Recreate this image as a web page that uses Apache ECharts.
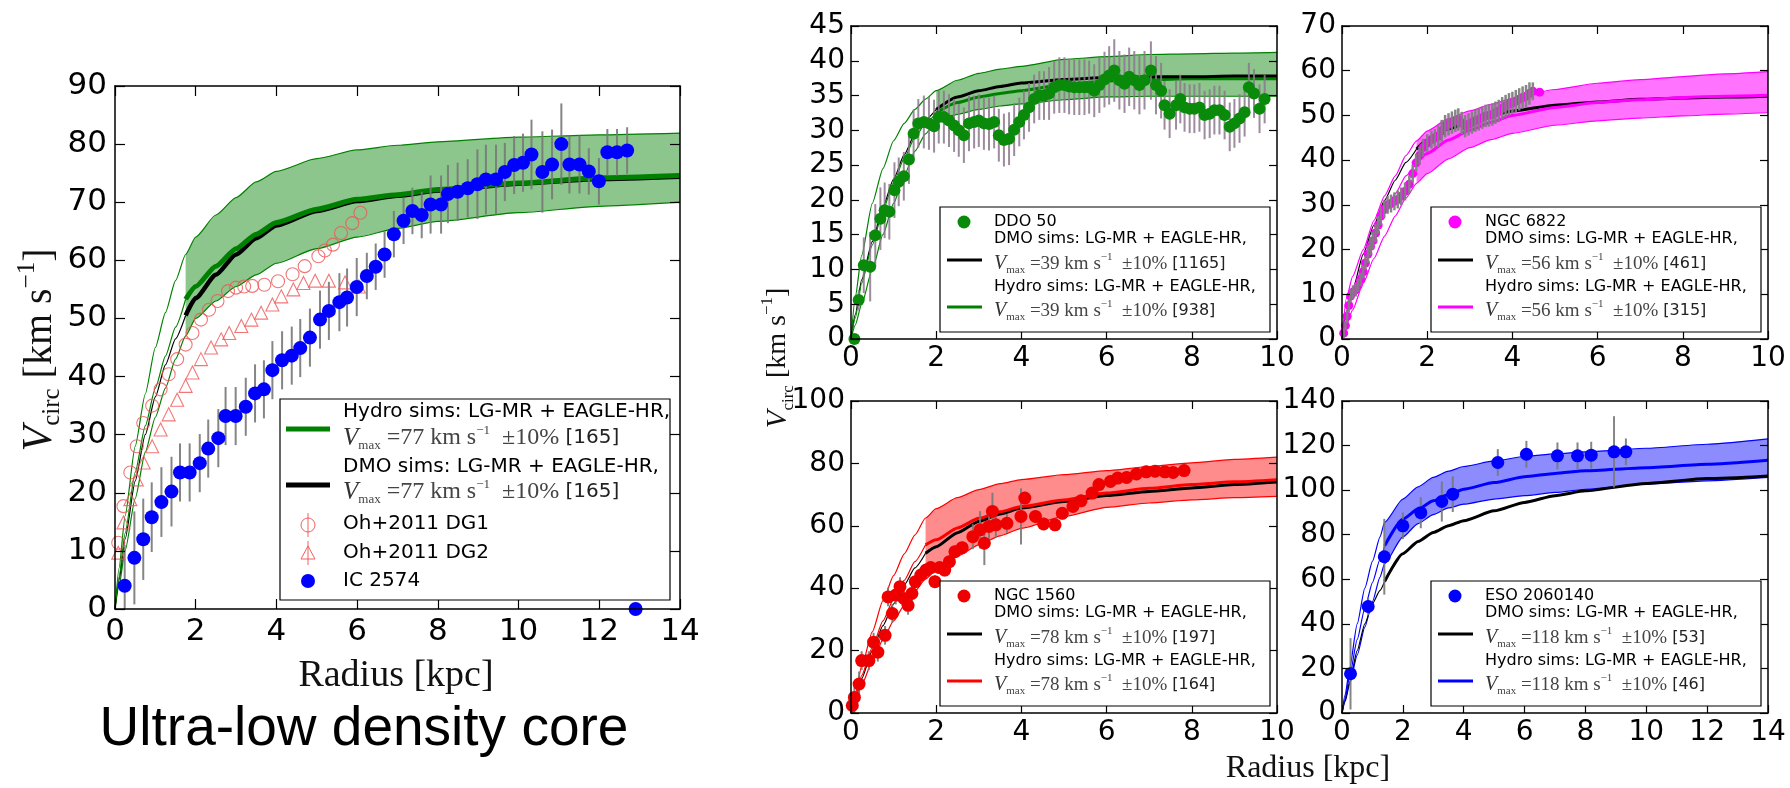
<!DOCTYPE html>
<html><head><meta charset="utf-8">
<script src="https://cdn.jsdelivr.net/npm/echarts@6/dist/echarts.min.js"></script>
<style>html,body{margin:0;padding:0;background:#fff}#c{width:1790px;height:788px}</style>
</head><body><div id="c"></div>
<script>
const SANS = 'DejaVu Sans', SERIF = 'Liberation Serif';

// ---------------- tick labels ----------------
const icXTicks = [0,2,4,6,8,10,12,14];
const icYTicks = [0,10,20,30,40,50,60,70,80,90];
const ddoXTicks = [0,2,4,6,8,10];
const ddoYTicks = [0,5,10,15,20,25,30,35,40,45];
const n6XTicks = [0,2,4,6,8,10];
const n6YTicks = [0,10,20,30,40,50,60,70];
const n1XTicks = [0,2,4,6,8,10];
const n1YTicks = [0,20,40,60,80,100];
const esXTicks = [0,2,4,6,8,10,12,14];
const esYTicks = [0,20,40,60,80,100,120,140];

// ---------------- IC 2574 panel ----------------
const icR = [0.24,0.48,0.70,0.91,1.15,1.40,1.61,1.85,2.10,2.31,2.56,2.74,2.99,3.24,3.47,3.69,3.90,4.14,4.38,4.59,4.83,5.08,5.30,5.56,5.75,5.99,6.24,6.46,6.68,6.91,7.15,7.37,7.60,7.82,8.08,8.25,8.49,8.74,8.98,9.19,9.44,9.66,9.89,10.11,10.32,10.59,10.83,11.06,11.26,11.51,11.74,11.99,12.2,12.44,12.69,12.9];
const icV = [4,8.8,12,15.8,18.4,20.2,23.5,23.5,25.1,27.6,29.4,33.2,33.2,34.8,37.1,37.8,41.1,42.8,43.6,44.9,46.7,49.8,51.3,52.8,53.6,55.4,57.3,58.9,61.0,64.5,66.8,68.5,67.8,69.6,69.6,71.4,71.8,72.4,73.1,73.9,73.9,75.2,76.4,76.8,78.2,75.2,76.5,80.0,76.5,76.5,75.3,73.6,78.6,78.6,78.9,0];
const icE = [7,8,7,6,6,6,5,5,5,5,5,5,5,5,5,5,5,5,5,5,5,5,5,5,5,5,4,4,4,4,4,4,4,5,5,5,5,5,6,6,6,5,5,5,6,7,6,7,5,5,4,4,4,4,4,0];
const dg1R = [0.08,0.21,0.38,0.54,0.70,0.92,1.13,1.33,1.54,1.75,1.92,2.13,2.33,2.54,2.80,3.0,3.2,3.4,3.7,4.04,4.4,4.7,5.04,5.2,5.4,5.6,5.88,6.08];
const dg1V = [11.4,17.7,23.5,28,32,35,37.8,40.4,43,45.5,47.5,49.8,51.5,53,54.7,55.3,55.5,55.6,55.8,56.4,57.6,59,60.7,61.7,62.7,64.7,66.4,68.2];
const dg2R = [0.08,0.21,0.38,0.54,0.71,0.92,1.13,1.33,1.54,1.75,1.92,2.13,2.38,2.63,2.83,3.13,3.38,3.62,3.9,4.12,4.42,4.67,4.96,5.3,5.7,6.04];
const dg2V = [9.7,14.9,18.9,22.3,25.2,28,30.9,33.5,36,38.4,40.7,43,45,46.4,47.5,48.7,49.8,51,52.4,53.8,55,56.1,56.5,56.5,56.2,55.5];
const icCurveR = [0,0.1,0.25,0.5,0.75,1.0,1.25,1.5,1.75,2.0,2.5,3.0,3.5,4.0,5.0,6.0,7.0,8.0,10.0,12.0,14.0];
const icUpper  = [0,7,16,28,37,45,51,56.5,61,64,67.8,70.8,73.5,75.3,77.5,79,79.8,80.4,81.2,81.6,81.9];
const icLower  = [0,4,10,19,27,33,38,43,47,50,53,55.5,57.5,59.5,62,64,65.5,66.7,68.2,69.3,70];
const icHydro  = [0,5.5,13,23.5,31.5,38,43.5,48.5,53.3,55.5,59,62,64.5,66.5,68.8,70.5,71.3,72.2,73.3,74.2,74.6];
const icDmo    = [0,5,12,22,30,36.5,42,46.5,50.5,53.5,57.5,61,63.8,66,68.5,70.2,71.1,72,73.2,74,74.4];

// ---------------- DDO 50 ----------------
const ddoR = [0.08,0.18,0.30,0.45,0.57,0.69,0.79,0.90,1.02,1.12,1.24,1.36,1.47,1.58,1.71,1.83,1.95,2.06,2.18,2.30,2.42,2.53,2.65,2.77,2.89,3.00,3.12,3.24,3.36,3.47,3.59,3.71,3.83,3.95,4.06,4.18,4.30,4.42,4.53,4.65,4.77,4.89,5.01,5.12,5.24,5.36,5.48,5.59,5.71,5.83,5.95,6.06,6.18,6.30,6.42,6.53,6.65,6.77,6.89,7.04,7.16,7.28,7.36,7.48,7.63,7.73,7.83,7.95,8.06,8.18,8.30,8.42,8.53,8.65,8.77,8.89,9.00,9.12,9.24,9.34,9.46,9.59,9.71];
const ddoV = [0,5.6,10.6,10.4,14.9,17.3,18.5,18.3,21.4,22.6,23.4,25.8,29.5,31.0,31.2,31.0,30.6,31.9,31.9,31.4,30.7,30.0,29.3,31.0,31.2,31.4,31.0,30.9,31.2,29.3,28.6,28.8,30.1,31.2,32.2,33.3,34.5,35.0,35.0,35.3,36.2,36.5,36.5,36.3,36.2,36.2,36.2,36.2,35.7,36.5,37.3,37.9,38.6,37.2,36.7,37.7,37.2,36.5,37.2,38.6,36.5,35.7,33.6,32.4,33.6,34.5,33.3,33.1,33.1,33.3,32.2,32.4,32.9,32.9,32.2,30.5,31.0,31.7,32.6,36.2,35.3,33.1,34.5];
const ddoE = [0,1.5,4,5,4.5,4.5,4,4,4,3.5,3.5,3.5,3.5,3.5,3.8,3.8,3.8,3.8,3.8,3.8,3.8,3.8,4,4,3.8,3.8,3.8,3.8,3.8,3.8,3.8,3.8,3.8,3.5,3.5,3.5,3.5,3.5,3.5,3.8,3.8,4,4,4,4,4,4,3.8,3.8,4,4,4.2,4.5,4.2,4.2,4.2,4.2,4.2,4.2,4.2,4.2,4,3.5,3.5,3.5,3.5,3.5,3.5,3.5,3.5,3.5,3.5,3.5,3.5,3.5,3.5,3.5,3.5,3.5,3.5,3.5,3.5,3.5];
const ddoCurveR = [0,0.1,0.25,0.5,0.75,1.0,1.25,1.5,1.75,2.0,2.5,3.0,3.5,4.0,5.0,6.0,7.0,8.0,9.0,10.0];
const ddoUpper  = [0,6,12,19.5,24.5,28.5,31,33,34.5,35.7,37.2,38.2,38.8,39.2,40.2,40.6,40.9,41,41.1,41.2];
const ddoLower  = [0,2,5,10,15,19.5,23.5,27,29.5,31.4,32.3,33,33.5,33.8,34.4,34.8,34.9,34.9,34.9,34.9];
const ddoHydro  = [0,3,8,13.5,18.5,22.5,26,29,31,32.5,34,34.8,35.3,35.7,36.6,37.1,37.3,37.4,37.4,37.4];
const ddoDmo    = [0,3.5,8.5,14,19,23,26.5,29.5,31.5,33,34.8,35.7,36.3,36.8,37.3,37.6,37.7,37.7,37.8,37.8];

// ---------------- NGC 6822 ----------------
const n6R = [0.04,0.08,0.12,0.16,0.2,0.26,0.32,0.38,0.44,0.5,0.55,0.61,0.67,0.73,0.79,0.85,0.91,0.99,1.07,1.15,1.23,1.31,1.39,1.48,1.58,1.66,1.74,1.82,1.9,2.0,2.1,2.18,2.26,2.34,2.42,2.5,2.58,2.66,2.73,2.81,2.89,2.97,3.05,3.13,3.21,3.29,3.37,3.45,3.53,3.6,3.68,3.76,3.84,3.92,4.0,4.08,4.16,4.24,4.32,4.4,4.48,4.64];
const n6V = [1.3,3,5.1,7.5,9.6,10.5,11,12,13.3,15,17,19,20.7,22,23.7,25.5,27.5,29,30,30.3,30.8,31.2,31.9,33,34.6,37,39.4,41,42.8,43.8,44.6,45,45.4,46.5,47.6,48,48.4,48.8,49.1,48.3,47.6,48,48.4,48.8,49.1,49.5,49.9,50,50.2,50.6,51,51.6,52.1,52.5,52.8,53.2,53.6,54,54.3,54.9,55.4,55.2];
const n6E = [1,1,1.5,1.5,1.5,1.5,1.5,1.5,1.5,1.5,1.5,2,2,2,2,2,2,2,2,2,2,2,2,2,2,2,2,2,2,2,2,2,2.5,2.5,2.5,2.5,2.5,2.5,2.5,2.5,2.5,2.5,2.5,2.5,2.5,2.5,2.5,2.5,2.5,2.5,2.5,2.5,2.5,2.5,2.5,2.5,2.5,2.5,2.5,2.5,2,0];
const n6CurveR = [0,0.1,0.25,0.5,0.75,1.0,1.25,1.5,1.75,2.0,2.5,3.0,3.5,4.0,5.0,6.0,7.0,8.0,9.0,10.0];
const n6Upper  = [0,9,14,20,26.5,32,36.5,41,44.3,46.5,49.3,51,52.5,53.8,55.8,57.2,58,58.7,59.3,59.8];
const n6Lower  = [0,3,6.5,12.5,18,23,27.5,31.5,34.8,37,40.3,42.8,44.6,46,47.8,48.8,49.4,49.9,50.3,50.6];
const n6Hydro  = [0,5.5,10,17,23,28,32.5,36.5,39.5,41.5,44.5,46.7,48.5,50,51.8,52.9,53.5,54,54.3,54.5];
const n6Dmo    = [0,6,11,19,25.5,31,35.5,39.5,42.5,44.5,47,48.5,50,51,52.3,53,53.6,53.9,54.1,54.3];

// ---------------- NGC 1560 ----------------
const n1R = [0.03,0.08,0.19,0.25,0.42,0.53,0.63,0.8,0.87,0.97,1.05,1.15,1.24,1.34,1.43,1.51,1.64,1.76,1.87,1.97,2.08,2.2,2.31,2.44,2.61,2.86,3.03,3.13,3.24,3.32,3.4,3.66,3.99,4.08,4.33,4.52,4.79,4.96,5.21,5.4,5.66,5.82,6.09,6.26,6.47,6.7,6.93,7.14,7.37,7.56,7.82];
const n1V = [2.4,5,9.3,16.8,16.8,22.7,19.5,24.9,37.2,31.9,37.8,40.5,36.7,34.5,38.3,42.1,44.2,45.8,46.6,42.1,46.6,45.8,48.5,51.7,53,56.5,58.7,54.4,59.8,64.6,60.3,60.8,63,68.9,63,60.6,60.3,64,66.2,68,70.5,73.2,74.2,75.3,75.5,76.6,77.3,77.5,77.3,77.1,77.7];
const n1E = [3,5,4,3,3,3,3,3,3,3,3,3,3,3,3,2,2,2,2,2,2,2,2,2,2,4,6,7,4,6,4,3,9,2,2,2,2,2,2,2,2,2,2,2,2,2,2,2,2,2,2];
const n1CurveR = [0,0.1,0.25,0.5,0.75,1.0,1.25,1.5,1.75,2.0,2.5,3.0,3.5,4.0,5.0,6.0,7.0,8.0,9.0,10.0];
const n1Upper  = [0,6,15,26,36,44,51,57,62.5,65.5,69,71.6,73.5,74.8,76.4,77.7,79,80.2,81.3,82];
const n1Lower  = [0,3.5,9,16.5,23.5,29.5,34.5,39,43,45.8,50.3,53.9,56.8,59.2,63,65.9,67.3,68.3,69,69.4];
const n1Hydro  = [0,4.5,12,21,29.5,36.5,42.5,48.5,53.9,55.5,59.3,62.4,64.5,66.2,68.3,70.5,72,73.2,74.1,74.8];
const n1Dmo    = [0,4,11,20,28,35,41,46.5,51.2,53.3,57.8,61.4,63.8,65.7,67.8,69.7,71,72.1,73.2,74];

// ---------------- ESO 2060140 ----------------
const esR = [0.28,0.86,1.39,2.0,2.59,3.28,3.64,5.12,6.06,7.08,7.74,8.19,8.94,9.33];
const esV = [17.6,47.8,70.1,84,89.9,94.9,98.2,112.4,116.1,115.4,115.4,115.7,117.2,117.2];
const esE = [16,4,17,6,7,9,8,6,6,6,6,6,16,6];
const esCurveR = [0,0.1,0.25,0.5,0.75,1.0,1.25,1.4,2.0,2.5,3.0,3.5,4.0,5.0,6.0,7.0,8.0,10.0,12.0,14.0];
const esUpper  = [0,8,20,40,56,68,79,85.5,96,101.5,105.7,108.5,110.6,113.1,115.1,116.3,117.2,118.8,120.6,123];
const esLower  = [0,5,13,26,38.5,50,61,67,79,85,89,92,93.7,96,97.5,99,100.4,102.7,104.2,105.7];
const esHydro  = [0,6.5,16.5,33,47,58.5,69,75,87,91.5,95.2,98,100.4,103.4,106,107.5,108.7,110.1,111.6,113.4];
const esDmo    = [0,5.5,14,28,40,49,55,59,71.5,77,81,84,86.3,90.7,94.5,97.5,99.7,103,105.2,106.4];

// ---------------- legend values ----------------
const legendNames  = ['IC 2574','DDO 50','NGC 6822','NGC 1560','ESO 2060140'];
const legendVmax   = [77,39,56,78,118];
const legendNdmo   = [165,1165,461,197,53];
const legendNhydro = [165,938,315,164,46];

// ---------------- panel layout / style ----------------
const panels = [
 {box:[115,86,565,523], xT:icXTicks, yT:icYTicks, col:'#008000', fill:'rgba(0,128,0,0.45)', pt:'#0000ff', ms:14,
  err:'rgba(120,120,120,0.9)', errW:2, fs:31, lm:8, xm:7, tick:10, thick:5, dmoThick:4.5,
  cr:icCurveR, up:icUpper, lo:icLower, hy:icHydro, dm:icDmo, start:1.75, r:icR, v:icV, e:icE, hydroTop:true, errTop:false},
 {box:[851,26,426,313], xT:ddoXTicks, yT:ddoYTicks, col:'#008000', fill:'rgba(0,128,0,0.45)', pt:'#0a8a0a', ms:12,
  err:'rgba(140,120,140,0.85)', errW:2, fs:28, lm:6, xm:6, tick:8, thick:3, dmoThick:3,
  cr:ddoCurveR, up:ddoUpper, lo:ddoLower, hy:ddoHydro, dm:ddoDmo, start:2.0, r:ddoR, v:ddoV, e:ddoE, hydroTop:false, errTop:false},
 {box:[1342,26,426,313], xT:n6XTicks, yT:n6YTicks, col:'#ff00ff', fill:'rgba(255,0,255,0.55)', pt:'#ff00ff', ms:9,
  err:'rgba(128,128,128,0.95)', errW:2.5, fs:28, lm:6, xm:6, tick:8, thick:3, dmoThick:3,
  cr:n6CurveR, up:n6Upper, lo:n6Lower, hy:n6Hydro, dm:n6Dmo, start:1.75, r:n6R, v:n6V, e:n6E, hydroTop:true, errTop:true},
 {box:[851,401,426,312], xT:n1XTicks, yT:n1YTicks, col:'#ff0000', fill:'rgba(255,0,0,0.45)', pt:'#ee0000', ms:13,
  err:'rgba(120,120,120,0.9)', errW:2, fs:28, lm:6, xm:6, tick:8, thick:3, dmoThick:3,
  cr:n1CurveR, up:n1Upper, lo:n1Lower, hy:n1Hydro, dm:n1Dmo, start:1.75, r:n1R, v:n1V, e:n1E, hydroTop:true, errTop:false},
 {box:[1342,401,426,312], xT:esXTicks, yT:esYTicks, col:'#0000ff', fill:'rgba(0,0,255,0.45)', pt:'#0000ff', ms:13,
  err:'rgba(120,120,120,0.9)', errW:2, fs:28, lm:6, xm:6, tick:8, thick:3, dmoThick:3,
  cr:esCurveR, up:esUpper, lo:esLower, hy:esHydro, dm:esDmo, start:1.4, r:esR, v:esV, e:esE, hydroTop:true, errTop:false}
];

function pairs(r, v, pred) { const o=[]; for (let k=0;k<r.length;k++) if (!pred || pred(r[k])) o.push([r[k], v[k]]); return o; }
const SM = 0.2;

const grids=[], xAxes=[], yAxes=[], series=[];
panels.forEach((p,i)=>{
  const [L,T,W,H] = p.box;
  grids.push({left:L, top:T, width:W, height:H, containLabel:false});
  const ax = (ticks)=>({min:ticks[0], max:ticks[ticks.length-1], interval:ticks[1]-ticks[0]});
  const line = {show:true, onZero:false, lineStyle:{color:'#000', width:1.5}};
  const tk = {show:true, inside:true, length:p.tick, lineStyle:{color:'#000', width:1.2}};
  const lab = {show:true, color:'#000', fontFamily:SANS, fontSize:p.fs, showMinLabel:true, showMaxLabel:true};
  xAxes.push(Object.assign({type:'value', gridIndex:i, position:'bottom', axisLine:line, axisTick:tk, axisLabel:Object.assign({margin:p.xm}, lab), splitLine:{show:false}, z:10}, ax(p.xT)));
  xAxes.push(Object.assign({type:'value', gridIndex:i, position:'top', axisLine:line, axisTick:tk, axisLabel:{show:false}, splitLine:{show:false}, z:10}, ax(p.xT)));
  yAxes.push(Object.assign({type:'value', gridIndex:i, position:'left', axisLine:line, axisTick:tk, axisLabel:Object.assign({margin:p.lm}, lab), splitLine:{show:false}, z:10}, ax(p.yT)));
  yAxes.push(Object.assign({type:'value', gridIndex:i, position:'right', axisLine:line, axisTick:tk, axisLabel:{show:false}, splitLine:{show:false}, z:10}, ax(p.yT)));
  const xi=2*i, yi=2*i;
  const base = {xAxisIndex:xi, yAxisIndex:yi, silent:true, animation:false};
  const inBand = r=>r>=p.start, inner = r=>r<=p.start;
  // band (filled polygon between lower and upper, from p.start outward)
  const bandPts = p.cr.map((r,k)=>[r, p.lo[k], p.up[k]]).filter(d=>inBand(d[0]));
  const fillCol = p.fill;
  series.push(Object.assign({type:'custom', clip:true, z:1, encode:{x:0, y:1}, data:bandPts,
    renderItem:(params, api)=>{
      if (params.dataIndex !== 0) return null;
      const top = bandPts.map(d=>api.coord([d[0], d[2]]));
      const bot = bandPts.map(d=>api.coord([d[0], d[1]])).reverse();
      return {type:'polygon', shape:{points:top.concat(bot)}, style:{fill:fillCol, stroke:null}};
    }}, base));
  // band edges (thin)
  [p.up, p.lo].forEach(arr=>series.push(Object.assign({type:'line', data:pairs(p.cr,arr), symbol:'none', smooth:SM, smoothMonotone:'x', lineStyle:{color:p.col, width:1.2}, z:2}, base)));
  // thin inner medians
  series.push(Object.assign({type:'line', data:pairs(p.cr,p.dm,inner), symbol:'none', smooth:SM, smoothMonotone:'x', lineStyle:{color:'#000', width:1.2}, z:2}, base));
  series.push(Object.assign({type:'line', data:pairs(p.cr,p.hy,inner), symbol:'none', smooth:SM, smoothMonotone:'x', lineStyle:{color:p.col, width:1.2}, z:2}, base));
  // thick medians
  const dmoS = Object.assign({type:'line', data:pairs(p.cr,p.dm,inBand), symbol:'none', smooth:SM, smoothMonotone:'x', lineStyle:{color:'#000', width:p.dmoThick}, z:2}, base);
  const hyS = Object.assign({type:'line', data:pairs(p.cr,p.hy,inBand), symbol:'none', smooth:SM, smoothMonotone:'x', lineStyle:{color:p.col, width:p.thick}, z:2}, base);
  if (p.hydroTop) { series.push(dmoS, hyS); } else { series.push(hyS, dmoS); }
  // error bars
  const errCol = p.err, errW = p.errW;
  series.push(Object.assign({type:'custom', clip:true, z:p.errTop?5:3, encode:{x:0,y:1},
    data:p.r.map((x,k)=>[x, p.v[k], p.e[k]]),
    renderItem:(params, api)=>{
      const x=api.value(0), y=api.value(1), e=api.value(2);
      const a=api.coord([x,y-e]), b=api.coord([x,y+e]);
      return {type:'line', shape:{x1:a[0],y1:a[1],x2:b[0],y2:b[1]}, style:{stroke:errCol, lineWidth:errW}};
    }}, base));
  // points
  series.push(Object.assign({type:'scatter', data:pairs(p.r,p.v), symbol:'circle', symbolSize:p.ms, itemStyle:{color:p.pt, opacity:1}, clip:true, z:4}, base));
});
// Oh+2011 DG1 / DG2 on the IC 2574 panel
series.push({type:'scatter', xAxisIndex:0, yAxisIndex:0, data:pairs(dg1R,dg1V), symbol:'circle', symbolSize:13,
  itemStyle:{color:'rgba(0,0,0,0)', borderColor:'#ee5555', borderWidth:1.1}, z:3, silent:true, clip:true});
series.push({type:'scatter', xAxisIndex:0, yAxisIndex:0, data:pairs(dg2R,dg2V), symbol:'triangle', symbolSize:13,
  itemStyle:{color:'rgba(0,0,0,0)', borderColor:'#ee5555', borderWidth:1.1}, z:3, silent:true, clip:true});

// ---------------- graphics: legends and titles ----------------
const G = [];
function tok(fs, fam, extra){ return Object.assign({fontSize:fs, fontFamily:fam, fill:'#222', lineHeight:Math.round(fs*1.3)}, extra||{}); }
function plain(x, y, text, fs, fam, extra){
  G.push({type:'text', x, y, z:101, silent:true, style:Object.assign({text, fill:'#000', fontSize:fs, fontFamily:fam||SANS, align:'left', verticalAlign:'middle', textAlign:'left', textVerticalAlign:'middle'}, extra||{})});
}
function vmaxRow(x, y, vmax, n, fs){
  const sm = Math.round(fs*0.66);
  G.push({type:'text', x, y, z:101, silent:true, style:{
    text:'{v|V}{sub|max}{t| =' + vmax + ' km s}{sup|\u22121}{t|  \u00b110%}{s| [' + n + ']}',
    align:'left', verticalAlign:'middle', textAlign:'left', textVerticalAlign:'middle',
    rich:{
      v: tok(Math.round(fs*1.25), SERIF, {fontStyle:'italic', fill:'#333', lineHeight:fs+8}),
      sub: tok(sm, SERIF, {fill:'#444', lineHeight:sm, verticalAlign:'bottom'}),
      t: tok(Math.round(fs*1.2), SERIF, {fill:'#444', lineHeight:fs+8}),
      sup: tok(sm, SERIF, {fill:'#444', lineHeight:sm, verticalAlign:'top'}),
      s: tok(fs, SANS, {fill:'#222', lineHeight:fs+8})
    }}});
}
function hline(x1, x2, y, col, w){ G.push({type:'line', z:101, silent:true, shape:{x1, y1:y, x2, y2:y}, style:{stroke:col, lineWidth:w}}); }
function box(x, y, w, h){ G.push({type:'rect', z:100, silent:true, shape:{x, y, width:w, height:h}, style:{fill:'#fff', stroke:'#000', lineWidth:1.2}}); }

// left legend
(function(){
  const x0=280, y0=399;
  box(x0, y0, 390, 201);
  hline(x0+6, x0+50, y0+30, '#008000', 5);
  hline(x0+6, x0+50, y0+86, '#000', 5);
  plain(x0+63, y0+13, 'Hydro sims: LG-MR + EAGLE-HR,', 20, SANS);
  vmaxRow(x0+63, y0+39, legendVmax[0], legendNhydro[0], 20);
  plain(x0+63, y0+68, 'DMO sims: LG-MR + EAGLE-HR,', 20, SANS);
  vmaxRow(x0+63, y0+93, legendVmax[0], legendNdmo[0], 20);
  G.push({type:'line', z:101, silent:true, shape:{x1:x0+28,y1:y0+114,x2:x0+28,y2:y0+138}, style:{stroke:'#f06060', lineWidth:1}});
  G.push({type:'circle', z:101, silent:true, shape:{cx:x0+28, cy:y0+126, r:7}, style:{fill:'none', stroke:'#f06060', lineWidth:1}});
  G.push({type:'line', z:101, silent:true, shape:{x1:x0+28,y1:y0+142,x2:x0+28,y2:y0+166}, style:{stroke:'#f06060', lineWidth:1}});
  G.push({type:'polygon', z:101, silent:true, shape:{points:[[x0+28,y0+147],[x0+21,y0+160],[x0+35,y0+160]]}, style:{fill:'none', stroke:'#f06060', lineWidth:1}});
  G.push({type:'circle', z:101, silent:true, shape:{cx:x0+28, cy:y0+182, r:7}, style:{fill:'#0000ff'}});
  plain(x0+63, y0+125, 'Oh+2011 DG1', 20, SANS);
  plain(x0+63, y0+154, 'Oh+2011 DG2', 20, SANS);
  plain(x0+63, y0+182, legendNames[0], 20, SANS);
})();

// right legends
for (let i=1;i<5;i++){
  const p = panels[i]; const [L,T,W,H] = p.box;
  const x0 = L+89, y0 = T+H-132;
  box(x0, y0, W-96, 125);
  G.push({type:'circle', z:101, silent:true, shape:{cx:x0+24, cy:y0+15, r:6.5}, style:{fill:p.pt}});
  hline(x0+7, x0+42, y0+53, '#000', 3);
  hline(x0+7, x0+42, y0+100, p.col, 3);
  plain(x0+54, y0+15, legendNames[i], 16, SANS);
  plain(x0+54, y0+32, 'DMO sims: LG-MR + EAGLE-HR,', 16, SANS);
  vmaxRow(x0+54, y0+57, legendVmax[i], legendNdmo[i], 16);
  plain(x0+54, y0+80, 'Hydro sims: LG-MR + EAGLE-HR,', 16, SANS);
  vmaxRow(x0+54, y0+104, legendVmax[i], legendNhydro[i], 16);
}

// axis titles
function vcircLabel(x, y, fs){
  const sm = Math.round(fs*0.62);
  G.push({type:'text', x, y, rotation:Math.PI/2, z:101, silent:true, style:{
    text:'{v|V}{sub|circ}{t| [km s}{sup|\u22121}{t|]}',
    align:'center', verticalAlign:'middle', textAlign:'center', textVerticalAlign:'middle',
    rich:{
      v: tok(Math.round(fs*1.05), SERIF, {fontStyle:'italic', fill:'#111', lineHeight:fs+10}),
      sub: tok(sm, SERIF, {fill:'#111', lineHeight:sm, verticalAlign:'bottom'}),
      t: tok(fs, SERIF, {fill:'#111', lineHeight:fs+10}),
      sup: tok(sm, SERIF, {fill:'#111', lineHeight:sm, verticalAlign:'top'})
    }}});
}
vcircLabel(40, 350, 40);
vcircLabel(778, 358, 28);
plain(396, 676, 'Radius [kpc]', 38, SERIF, {align:'center', textAlign:'center', fill:'#111'});
plain(1308, 769, 'Radius [kpc]', 32, SERIF, {align:'center', textAlign:'center', fill:'#111'});
plain(364, 730, 'Ultra-low density core', 55, 'Liberation Sans', {align:'center', textAlign:'center', fill:'#000'});

const chart = echarts.init(document.getElementById('c'), null, {renderer:'canvas'});
chart.setOption({
  animation:false, backgroundColor:'#fff',
  textStyle:{fontFamily:SANS},
  grid:grids, xAxis:xAxes, yAxis:yAxes, series:series,
  graphic:{elements:G}
});
</script></body></html>
